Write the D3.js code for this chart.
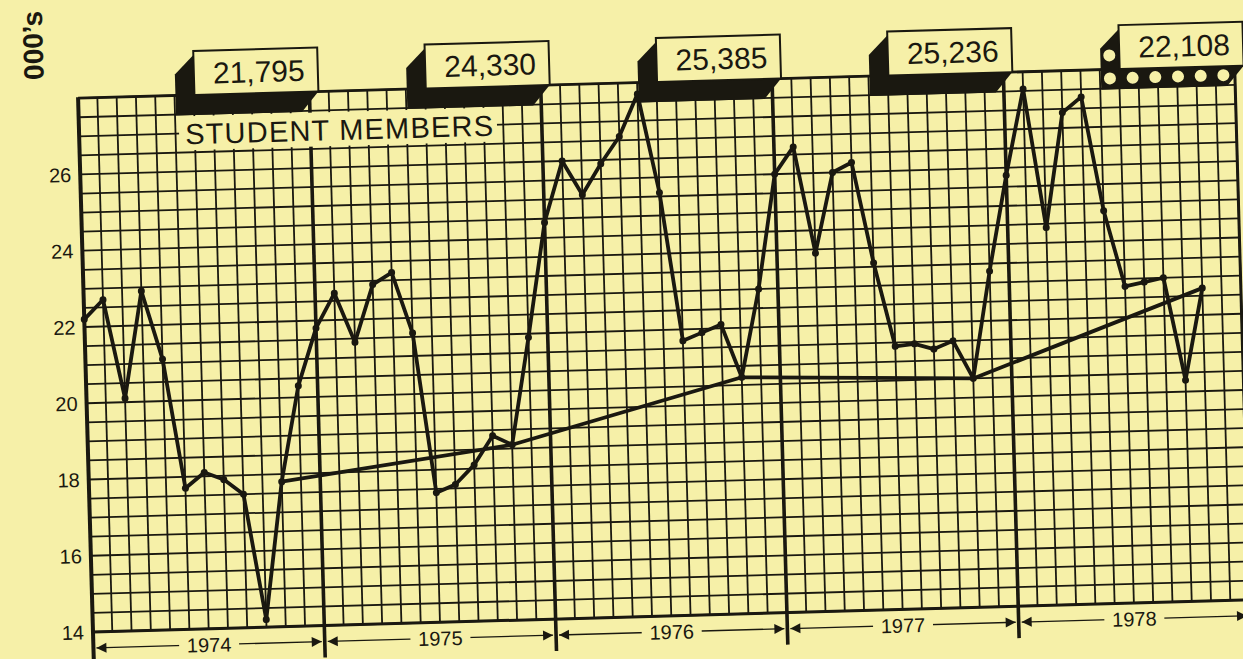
<!DOCTYPE html>
<html><head><meta charset="utf-8">
<script src="https://cdn.jsdelivr.net/npm/d3@7"></script>
<style>html,body{margin:0;padding:0;background:#f6f0a8;overflow:hidden}svg{display:block}</style>
</head><body>
<svg id="c" width="1243" height="659"></svg>
<script>
// ---- data ----
const years = ["1974", "1975", "1976", "1977", "1978"];
const yearTotals = ["21,795", "24,330", "25,385", "25,236", "22,108"];
// monthly student members, thousands (Jan 1974 .. Nov 1978)
const members = [
  22.2, 22.7, 20.1, 22.9, 21.1, 17.7, 18.1, 17.9, 17.5, 14.2, 17.8, 20.3,
  21.8, 22.7, 21.4, 22.9, 23.2, 21.6, 17.4, 17.6, 18.1, 18.85, 18.6, 21.4,
  24.4, 26.0, 25.1, 25.9, 26.6, 27.7, 25.1, 21.2, 21.4, 21.6, 20.2, 22.5,
  25.5, 26.2, 23.4, 25.5, 25.75, 23.1, 20.9, 20.95, 20.8, 21.0, 20.0, 22.8,
  25.3, 27.55, 23.9, 26.9, 27.3, 24.3, 22.3, 22.4, 22.5, 19.8, 22.2
];
const trendMonths = [10, 22, 34, 46, 58];
const yTicks = [14, 16, 18, 20, 22, 24, 26];
const seriesLabel = "STUDENT MEMBERS";
const unitLabel = "000\u2019s";

// ---- layout ----
const paper = "#f6f0a8", ink = "#1a1810";
const W = 1157, H = 534, months = 60;
const font = "'Liberation Sans', Arial, Helvetica, sans-serif";

const svg = d3.select("#c");
svg.append("rect").attr("width", 1243).attr("height", 659).attr("fill", paper);

const g = svg.append("g")
  .attr("transform", `translate(93,632) rotate(-1.6) translate(0,${-H})`);

const x = d3.scaleLinear().domain([0, months]).range([0, W]);
const y = d3.scaleLinear().domain([14, 28]).range([H, 0]);

// grid
g.append("g").selectAll("line").data(d3.range(0, months + 1)).join("line")
  .attr("x1", d => x(d)).attr("x2", d => x(d)).attr("y1", 0).attr("y2", H)
  .attr("stroke", ink).attr("stroke-width", 1.8);
g.append("g").selectAll("line").data(d3.range(14, 28.01, 0.5)).join("line")
  .attr("x1", 0).attr("x2", W).attr("y1", d => y(d)).attr("y2", d => y(d))
  .attr("stroke", ink).attr("stroke-width", 1.8);

// borders
g.append("line").attr("x1", 0).attr("x2", 0).attr("y1", -1).attr("y2", H + 32)
  .attr("stroke", ink).attr("stroke-width", 4);
g.append("line").attr("x1", 0).attr("x2", W).attr("y1", H).attr("y2", H)
  .attr("stroke", ink).attr("stroke-width", 3);
g.append("line").attr("x1", 0).attr("x2", W).attr("y1", 0).attr("y2", 0)
  .attr("stroke", ink).attr("stroke-width", 2.8);
g.append("line").attr("x1", W).attr("x2", W).attr("y1", 0).attr("y2", H + 32)
  .attr("stroke", ink).attr("stroke-width", 3);

// year boundary lines
g.append("g").selectAll("line").data([12, 24, 36, 48]).join("line")
  .attr("x1", d => x(d)).attr("x2", d => x(d)).attr("y1", 0).attr("y2", H + 32)
  .attr("stroke", ink).attr("stroke-width", 3.6);

// y tick labels
g.append("g").selectAll("text").data(yTicks).join("text")
  .attr("x", -9).attr("y", d => y(d)).attr("dy", "0.36em")
  .attr("text-anchor", "end").attr("font-family", font).attr("font-size", 20)
  .attr("fill", ink).text(d => d);

// unit label
g.append("text").attr("transform", "translate(-44,-54) rotate(-90)")
  .attr("text-anchor", "middle").attr("dy", "0.36em")
  .attr("font-family", font).attr("font-size", 28).attr("font-weight", "bold")
  .attr("fill", ink).text(unitLabel);

// trend line
const line = d3.line().x(d => x(d[0])).y(d => y(d[1]));
g.append("path").datum(trendMonths.map(m => [m, members[m]]))
  .attr("d", line).attr("fill", "none").attr("stroke", ink)
  .attr("stroke-width", 3.8).attr("stroke-linejoin", "round");

// data line
const pts = members.map((v, i) => [i, v]);
g.append("path").datum(pts).attr("d", line).attr("fill", "none")
  .attr("stroke", ink).attr("stroke-width", 3.8).attr("stroke-linejoin", "round");
g.append("g").selectAll("circle").data(pts).join("circle")
  .attr("cx", d => x(d[0])).attr("cy", d => y(d[1])).attr("r", 3.5).attr("fill", ink);

// year total boxes
years.forEach((yr, k) => {
  const b = x(12 * (k + 1));
  const x0 = b - 115, x1 = b + 9, y0 = -44, y1 = 0;
  const bg = g.append("g");
  bg.append("polygon")
    .attr("points", [[x0, y0 + 4], [x0 - 19, y0 + 23], [x0 - 19, y1 + 20],
      [x1 - 17, y1 + 20], [x1, y1], [x1, y0]].map(p => p.join(",")).join(" "))
    .attr("fill", ink);
  bg.append("rect").attr("x", x0).attr("y", y0).attr("width", x1 - x0).attr("height", y1 - y0)
    .attr("fill", paper).attr("stroke", ink).attr("stroke-width", 2);
  bg.append("text").attr("x", (x0 + x1) / 2 + 3).attr("y", y1 - 11)
    .attr("text-anchor", "middle").attr("font-family", font).attr("font-size", 30)
    .attr("fill", ink).text(yearTotals[k]);
  if (k === years.length - 1) {
    const holes = [[x0 - 10, -14]].concat(d3.range(6).map(j => [x0 - 10 + j * 22.7, 9]));
    bg.selectAll("circle").data(holes).join("circle")
      .attr("cx", d => d[0]).attr("cy", d => d[1]).attr("r", 6).attr("fill", paper);
  }
});

// series label with paper background
g.append("rect").attr("x", 100).attr("y", 21).attr("width", 318).attr("height", 34).attr("fill", paper);
g.append("text").attr("x", 106).attr("y", 49).attr("font-family", font).attr("font-size", 29)
  .attr("textLength", 308).attr("lengthAdjust", "spacing").attr("fill", ink).text(seriesLabel);

// year dimension lines at bottom
const dimY = H + 16;
const arrow = (tipX, dir) => {
  const L = 10, h = 5;
  return [[tipX, dimY], [tipX - dir * L, dimY - h], [tipX - dir * L, dimY + h]].map(p => p.join(",")).join(" ");
};
years.forEach((yr, k) => {
  const a = x(12 * k) + 3, bb = x(12 * (k + 1)) - 3, c = x(12 * k + 6);
  g.append("line").attr("x1", a).attr("x2", bb).attr("y1", dimY).attr("y2", dimY)
    .attr("stroke", ink).attr("stroke-width", 1.3);
  g.append("polygon").attr("points", arrow(a, -1)).attr("fill", ink);
  g.append("polygon").attr("points", arrow(bb, 1)).attr("fill", ink);
  g.append("rect").attr("x", c - 30).attr("y", dimY - 12).attr("width", 60).attr("height", 22).attr("fill", paper);
  g.append("text").attr("x", c).attr("y", dimY).attr("dy", "0.36em").attr("text-anchor", "middle")
    .attr("font-family", font).attr("font-size", 20).attr("fill", ink).text(yr);
});
</script>
</body></html>
